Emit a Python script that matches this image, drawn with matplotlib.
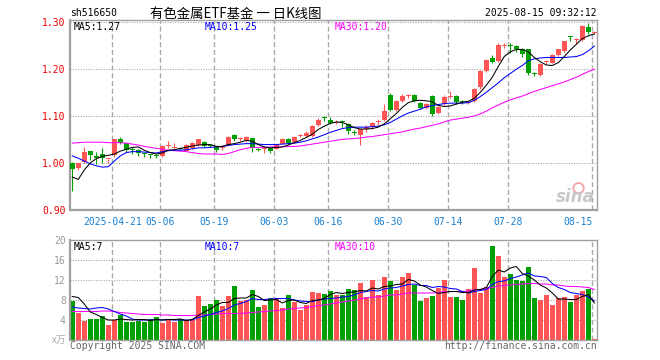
import matplotlib
matplotlib.use('Agg')
import matplotlib.pyplot as plt
import numpy as np

# ---------------- data ----------------
date_labels = ['2025-04-21', '05-06', '05-19', '06-03', '06-16', '06-30', '07-14', '07-28', '08-15']
date_index = [7, 15, 24, 34, 43, 53, 63, 73, 87]

opens = [1.000, 0.989, 1.002, 1.025, 1.014, 1.020, 1.008, 1.016, 1.050, 1.042,
         1.030, 1.028, 1.022, 1.018, 1.017, 1.014, 1.036, 1.032, 1.031, 1.026,
         1.032, 1.038, 1.045, 1.039, 1.034, 1.031, 1.039, 1.060, 1.051, 1.047,
         1.052, 1.030, 1.030, 1.031, 1.030, 1.041, 1.050, 1.045, 1.058, 1.058,
         1.058, 1.080, 1.097, 1.092, 1.085, 1.088, 1.083, 1.065, 1.060, 1.072,
         1.077, 1.086, 1.092, 1.144, 1.112, 1.131, 1.142, 1.145, 1.127, 1.117,
         1.143, 1.106, 1.126, 1.141, 1.143, 1.132, 1.128, 1.131, 1.161, 1.195,
         1.222, 1.216, 1.249, 1.251, 1.248, 1.241, 1.241, 1.191, 1.187, 1.214,
         1.213, 1.230, 1.238, 1.269, 1.262, 1.262, 1.289, 1.276]
highs = [1.002, 1.000, 1.033, 1.025, 1.024, 1.032, 1.009, 1.051, 1.055, 1.043,
         1.034, 1.030, 1.023, 1.020, 1.019, 1.038, 1.046, 1.043, 1.032, 1.040,
         1.044, 1.050, 1.047, 1.041, 1.034, 1.037, 1.058, 1.061, 1.056, 1.057,
         1.053, 1.032, 1.033, 1.032, 1.040, 1.053, 1.053, 1.058, 1.062, 1.067,
         1.080, 1.095, 1.100, 1.098, 1.092, 1.091, 1.084, 1.069, 1.072, 1.081,
         1.086, 1.094, 1.125, 1.148, 1.133, 1.147, 1.147, 1.146, 1.129, 1.128,
         1.145, 1.121, 1.144, 1.153, 1.145, 1.134, 1.132, 1.160, 1.197, 1.220,
         1.229, 1.255, 1.255, 1.255, 1.250, 1.244, 1.243, 1.194, 1.212, 1.218,
         1.231, 1.243, 1.259, 1.270, 1.265, 1.292, 1.298, 1.280]
lows = [0.940, 0.986, 1.000, 1.006, 0.998, 1.000, 0.999, 1.013, 1.041, 1.024,
        1.018, 1.015, 1.012, 1.010, 1.010, 1.012, 1.032, 1.031, 1.028, 1.025,
        1.030, 1.037, 1.033, 1.033, 1.023, 1.027, 1.038, 1.047, 1.046, 1.045,
        1.023, 1.025, 1.021, 1.021, 1.029, 1.040, 1.040, 1.043, 1.056, 1.056,
        1.056, 1.078, 1.089, 1.082, 1.082, 1.076, 1.062, 1.060, 1.038, 1.066,
        1.071, 1.080, 1.090, 1.111, 1.110, 1.129, 1.137, 1.130, 1.115, 1.115,
        1.100, 1.104, 1.124, 1.138, 1.126, 1.126, 1.125, 1.129, 1.158, 1.193,
        1.212, 1.214, 1.245, 1.234, 1.236, 1.226, 1.186, 1.185, 1.185, 1.211,
        1.212, 1.228, 1.236, 1.258, 1.252, 1.260, 1.273, 1.274]
closes = [0.987, 0.999, 1.023, 1.016, 1.011, 1.010, 1.009, 1.050, 1.043, 1.028,
          1.027, 1.022, 1.019, 1.016, 1.015, 1.036, 1.038, 1.033, 1.030, 1.039,
          1.042, 1.050, 1.036, 1.036, 1.028, 1.033, 1.056, 1.050, 1.052, 1.055,
          1.031, 1.027, 1.031, 1.026, 1.038, 1.050, 1.043, 1.056, 1.060, 1.064,
          1.079, 1.092, 1.095, 1.085, 1.087, 1.086, 1.067, 1.063, 1.071, 1.077,
          1.084, 1.088, 1.110, 1.113, 1.131, 1.143, 1.144, 1.131, 1.117, 1.126,
          1.104, 1.119, 1.141, 1.143, 1.129, 1.130, 1.130, 1.157, 1.196, 1.219,
          1.215, 1.251, 1.251, 1.249, 1.241, 1.231, 1.192, 1.189, 1.210, 1.216,
          1.229, 1.241, 1.258, 1.267, 1.264, 1.291, 1.279, 1.278]

ma5 = [0.970, 0.965, 0.985, 1.000, 1.009, 1.014, 1.016, 1.019, 1.025, 1.029,
       1.033, 1.034, 1.027, 1.022, 1.019, 1.021, 1.027, 1.028, 1.031, 1.033,
       1.036, 1.038, 1.039, 1.039, 1.035, 1.035, 1.039, 1.041, 1.044, 1.048,
       1.046, 1.039, 1.034, 1.032, 1.033, 1.034, 1.038, 1.043, 1.048, 1.054,
       1.061, 1.071, 1.078, 1.084, 1.087, 1.086, 1.081, 1.075, 1.072, 1.072,
       1.073, 1.076, 1.083, 1.094, 1.105, 1.118, 1.128, 1.132, 1.133, 1.132,
       1.130, 1.122, 1.120, 1.121, 1.125, 1.129, 1.131, 1.137, 1.150, 1.165,
       1.182, 1.205, 1.226, 1.236, 1.241, 1.241, 1.236, 1.224, 1.215, 1.208,
       1.207, 1.213, 1.226, 1.240, 1.252, 1.264, 1.270, 1.274]
ma10 = [1.015, 1.010, 1.004, 0.998, 0.994, 0.991, 0.992, 1.004, 1.015, 1.022,
        1.024, 1.024, 1.023, 1.022, 1.021, 1.024, 1.026, 1.027, 1.027, 1.028,
        1.030, 1.032, 1.032, 1.033, 1.034, 1.035, 1.037, 1.039, 1.040, 1.041,
        1.041, 1.040, 1.039, 1.039, 1.039, 1.040, 1.041, 1.042, 1.044, 1.047,
        1.051, 1.055, 1.060, 1.065, 1.069, 1.073, 1.075, 1.076, 1.076, 1.076,
        1.077, 1.078, 1.081, 1.086, 1.093, 1.100, 1.106, 1.110, 1.114, 1.119,
        1.122, 1.124, 1.126, 1.127, 1.127, 1.127, 1.128, 1.133, 1.141, 1.150,
        1.160, 1.170, 1.181, 1.190, 1.199, 1.207, 1.217, 1.221, 1.223, 1.224,
        1.224, 1.224, 1.224, 1.225, 1.226, 1.230, 1.238, 1.248]
ma30 = [1.042, 1.043, 1.044, 1.044, 1.044, 1.044, 1.043, 1.043, 1.043, 1.042,
        1.040, 1.038, 1.035, 1.033, 1.031, 1.029, 1.027, 1.026, 1.025, 1.024,
        1.022, 1.020, 1.019, 1.019, 1.019, 1.018, 1.020, 1.024, 1.028, 1.031,
        1.033, 1.033, 1.033, 1.034, 1.034, 1.034, 1.035, 1.035, 1.036, 1.038,
        1.040, 1.042, 1.044, 1.046, 1.048, 1.050, 1.051, 1.052, 1.053, 1.055,
        1.056, 1.058, 1.060, 1.062, 1.064, 1.066, 1.069, 1.072, 1.074, 1.077,
        1.080, 1.083, 1.087, 1.091, 1.093, 1.095, 1.097, 1.100, 1.104, 1.110,
        1.117, 1.123, 1.129, 1.134, 1.138, 1.142, 1.147, 1.152, 1.156, 1.160,
        1.164, 1.168, 1.172, 1.177, 1.182, 1.188, 1.194, 1.199]

volumes = [7.8, 5.5, 3.9, 4.2, 4.2, 4.8, 3.0, 4.0, 5.0, 3.7,
           3.7, 3.9, 3.7, 4.3, 4.7, 3.5, 4.3, 3.6, 4.3, 4.0,
           4.1, 8.8, 6.8, 7.3, 8.0, 6.8, 8.8, 10.8, 7.8, 8.0,
           10.0, 6.7, 7.0, 8.5, 8.5, 6.5, 9.0, 7.7, 6.0, 7.1,
           9.7, 9.5, 9.3, 9.8, 9.1, 9.0, 10.2, 10.0, 11.4, 8.6,
           12.0, 9.0, 12.6, 11.8, 10.0, 12.6, 13.4, 11.0, 7.8, 8.4,
           8.8, 10.5, 12.0, 8.6, 8.6, 8.0, 10.2, 14.4, 9.4, 10.6,
           18.8, 16.8, 12.6, 13.2, 12.0, 11.8, 14.6, 8.4, 8.0, 9.0,
           7.0, 8.4, 8.6, 7.6, 9.1, 9.8, 10.3, 0.3]
vma5 = [8.7, 8.5, 7.2, 5.6, 5.1, 4.5, 4.0, 4.0, 4.2, 4.1,
        4.0, 4.1, 4.1, 3.9, 4.1, 4.0, 4.1, 4.1, 4.2, 3.9,
        4.1, 4.9, 5.6, 6.2, 7.0, 7.5, 7.5, 8.3, 8.4, 8.4,
        9.1, 8.7, 7.9, 8.0, 8.1, 7.4, 7.9, 8.0, 7.5, 7.3,
        7.9, 8.0, 8.3, 9.1, 9.5, 9.3, 9.5, 9.6, 9.9, 9.8,
        10.4, 10.2, 10.7, 10.8, 11.1, 11.2, 12.1, 11.8, 11.0, 10.6,
        9.9, 9.3, 9.5, 9.7, 9.7, 9.5, 9.5, 10.0, 10.1, 10.5,
        12.7, 14.0, 13.6, 14.4, 14.7, 13.3, 12.8, 12.0, 11.0, 10.4,
        9.4, 8.2, 8.2, 8.1, 8.1, 8.7, 9.1, 7.4]
vma10 = [6.6, 6.4, 6.3, 6.2, 6.4, 6.5, 6.2, 5.7, 5.2, 4.8,
         4.2, 4.0, 4.0, 4.0, 4.1, 4.0, 4.1, 4.0, 4.0, 4.0,
         4.0, 4.5, 4.8, 5.1, 5.5, 5.8, 6.3, 7.0, 7.3, 7.7,
         8.3, 8.1, 8.1, 8.2, 8.3, 8.3, 8.3, 8.0, 7.8, 7.7,
         7.7, 8.0, 8.2, 8.3, 8.4, 8.6, 8.7, 9.0, 9.5, 9.7,
         9.9, 9.8, 10.2, 10.4, 10.5, 10.8, 11.1, 11.2, 10.9, 10.9,
         10.5, 10.7, 10.6, 10.3, 10.2, 9.7, 9.4, 9.7, 9.9, 10.1,
         11.1, 11.7, 11.8, 12.3, 12.6, 13.0, 13.4, 12.8, 12.7, 12.5,
         11.3, 10.5, 10.1, 9.5, 9.3, 9.1, 8.6, 7.8]
vma30 = [5.7, 5.7, 5.7, 5.7, 5.7, 5.8, 5.8, 5.7, 5.5, 5.4,
         5.3, 5.2, 5.1, 5.1, 5.1, 5.0, 5.0, 4.9, 4.9, 4.9,
         4.9, 5.0, 5.0, 5.1, 5.2, 5.3, 5.3, 5.3, 5.3, 5.4,
         5.5, 5.6, 5.7, 5.8, 5.9, 6.0, 6.2, 6.3, 6.4, 6.5,
         6.7, 6.9, 7.0, 7.2, 7.4, 7.6, 7.8, 8.0, 8.2, 8.4,
         8.6, 8.6, 8.8, 9.0, 9.0, 9.2, 9.4, 9.4, 9.4, 9.4,
         9.4, 9.5, 9.7, 9.7, 9.7, 9.7, 9.8, 10.0, 10.1, 10.2,
         10.5, 10.8, 10.9, 11.0, 11.1, 11.2, 11.3, 11.3, 11.2, 11.2,
         11.0, 11.0, 10.8, 10.7, 10.7, 10.6, 10.5, 10.1]

price_ticks = [0.90, 1.00, 1.10, 1.20, 1.30]
vol_ticks = [4, 8, 12, 16, 20]

# ---------------- style ----------------
W, H = 660, 360
MONO = 'DejaVu Sans Mono'
RED = '#ff5555'
GREEN = '#00a000'
GRID = '#aaaaaa'
SPINE = '#a0a0a0'
LW = 0.75
plt.rcParams['font.family'] = ['DejaVu Sans Mono', 'Noto Sans CJK SC']

fig = plt.figure(figsize=(W / 100, H / 100), dpi=100)
fig.patch.set_facecolor('white')


def rect(l, t, r, b):
    return [l / W, 1 - b / H, (r - l) / W, (b - t) / H]


ax1 = fig.add_axes(rect(70, 20, 597, 210))
ax2 = fig.add_axes(rect(70, 240, 597, 340))

n = len(closes)
x = np.arange(n)
o = np.array(opens)
c = np.array(closes)
up = c >= o
cols = [RED if u else GREEN for u in up]
xlim = (-0.38, 87.45)
grid_x = [i - 0.3 for i in date_index]

# ----- price panel -----
for gy in price_ticks[1:]:
    ax1.axhline(gy, color=GRID, lw=0.8, dashes=(1, 1.3), zorder=0)
for gx in grid_x:
    ax1.axvline(gx, color=GRID, lw=1.0, dashes=(3.6, 2.0), zorder=0)

ax1.vlines(x, lows, highs, colors=cols, lw=0.8, zorder=2)
body_bottom = np.minimum(o, c)
body_h = np.maximum(np.abs(c - o), 0.0018)
ax1.bar(x, body_h, bottom=body_bottom, width=0.8, color=cols, linewidth=0, zorder=3)

ax1.plot(x, ma30, color='#ff00ff', lw=LW, zorder=4)
ax1.plot(x, ma10, color='#0000ff', lw=LW, zorder=4)
ax1.plot(x, ma5, color='#000000', lw=LW, zorder=4)

ax1.set_xlim(*xlim)
ax1.set_ylim(0.90, 1.3036)
ax1.set_yticks(price_ticks)
ax1.set_yticklabels(['%.2f' % t for t in price_ticks], color='#ee0000', fontsize=7, family=MONO)
ax1.set_xticks(grid_x)
ax1.set_xticklabels(date_labels, color='#1a80d0', fontsize=7, family=MONO)
ax1.get_xticklabels()[-1].set_horizontalalignment('right')
ax1.tick_params(axis='both', length=0)
ax1.tick_params(axis='y', pad=3)
ax1.tick_params(axis='x', pad=5)
for s in ax1.spines.values():
    s.set_color(SPINE)
    s.set_linewidth(1.0)
ax1.spines['left'].set_linewidth(1.6)
ax1.spines['bottom'].set_linewidth(1.6)

# sina watermark
ax1.text(0.995, 0.02, 'sina', transform=ax1.transAxes, ha='right', va='bottom',
         color='#c8c8c8', fontsize=12, fontweight='bold', style='italic', family='DejaVu Sans')
ax1.scatter([0.965], [0.115], s=55, transform=ax1.transAxes, facecolors='none',
            edgecolors='#f2a8a8', linewidths=1.4, zorder=1)

# ----- volume panel -----
for gy in vol_ticks[:-1]:
    ax2.axhline(gy, color=GRID, lw=0.8, dashes=(1, 1.3), zorder=0)
for gx in grid_x:
    ax2.axvline(gx, color=GRID, lw=1.0, dashes=(3.6, 2.0), zorder=0)
ax2.bar(x, volumes, width=0.8, color=cols, linewidth=0, zorder=2)
ax2.plot(x, vma30, color='#ff00ff', lw=LW, zorder=4)
ax2.plot(x, vma10, color='#0000ff', lw=LW, zorder=4)
ax2.plot(x, vma5, color='#000000', lw=LW, zorder=4)
ax2.set_xlim(*xlim)
ax2.set_ylim(0, 20)
ax2.set_yticks(vol_ticks)
ax2.set_yticklabels([str(t) for t in vol_ticks], color='#999999', fontsize=7, family=MONO)
ax2.set_xticks([])
ax2.tick_params(axis='both', length=0)
ax2.tick_params(axis='y', pad=3)
for s in ax2.spines.values():
    s.set_color(SPINE)
    s.set_linewidth(1.0)
ax2.spines['left'].set_linewidth(1.6)

# ----- texts -----
def ftext(px, py, s, **kw):
    fig.text(px / W, 1 - py / H, s, **kw)


ftext(70, 13.5, 'sh516650', ha='left', va='center', fontsize=7, family=MONO, color='#000000')
ftext(150, 13.5, '有色金属ETF基金 一 日K线图', ha='left', va='center', fontsize=9.6,
      family=['Noto Sans CJK SC', 'DejaVu Sans'], color='#000000')
ftext(597, 13.5, '2025-08-15 09:32:12', ha='right', va='center', fontsize=7, family=MONO, color='#000000')

ftext(74, 27, 'MA5:%.2f' % ma5[-1], ha='left', va='center', fontsize=7, family=MONO, color='#000000')
ftext(204.5, 27, 'MA10:%.2f' % ma10[-1], ha='left', va='center', fontsize=7, family=MONO, color='#0000ff')
ftext(334.5, 27, 'MA30:%.2f' % ma30[-1], ha='left', va='center', fontsize=7, family=MONO, color='#ff00ff')

ftext(74, 247, 'MA5:%d' % int(vma5[-1]), ha='left', va='center', fontsize=7, family=MONO, color='#000000')
ftext(204.5, 247, 'MA10:%d' % int(vma10[-1]), ha='left', va='center', fontsize=7, family=MONO, color='#0000ff')
ftext(334.5, 247, 'MA30:%d' % int(vma30[-1]), ha='left', va='center', fontsize=7, family=MONO, color='#ff00ff')

ftext(66, 340, 'x万', ha='right', va='center', fontsize=7,
      family=['Noto Sans CJK SC', 'DejaVu Sans'], color='#aaaaaa')
ftext(70, 346, 'Copyright 2025 SINA.COM', ha='left', va='center', fontsize=7, family=MONO, color='#666666')
ftext(597, 346, 'http://finance.sina.com.cn', ha='right', va='center', fontsize=7, family=MONO, color='#666666')

fig.savefig('out.png', dpi=100)
